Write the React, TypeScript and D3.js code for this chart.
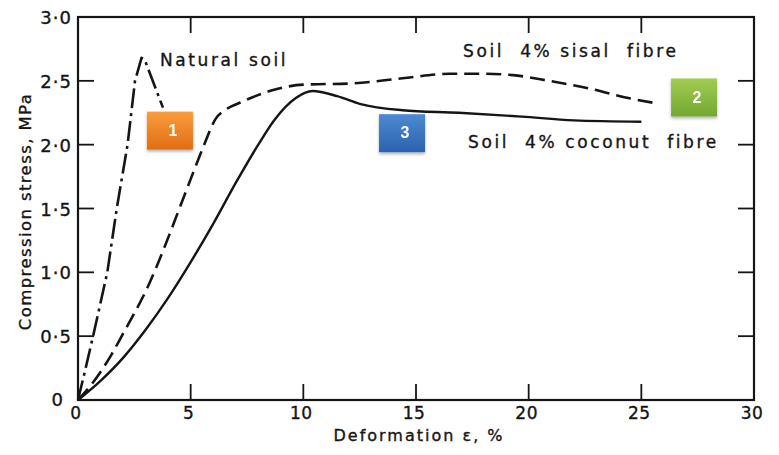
import * as d3 from "d3";

// stress-strain curves: [deformation %, stress MPa]
const naturalSoil: [number, number][] = [
  [0, 0], [0.3, 0.22], [0.67, 0.5], [1.3, 1.0], [1.72, 1.5], [2.2, 2.0],
  [2.53, 2.5], [2.82, 2.68], [2.95, 2.67], [3.77, 2.29],
];
const sisalFibre: [number, number][] = [
  [0, 0], [0.5, 0.1], [1, 0.22], [1.5, 0.36], [2, 0.52], [2.5, 0.68],
  [3, 0.85], [3.5, 1.05], [4, 1.27], [4.5, 1.5], [5, 1.73], [5.6, 2.0],
  [6.1, 2.2], [6.6, 2.28], [7.2, 2.33], [8.5, 2.42], [10, 2.47],
  [12.2, 2.48], [14.4, 2.52], [16.5, 2.555], [18, 2.556], [19.3, 2.545],
  [20.9, 2.5], [22.7, 2.44], [24.3, 2.37], [25.8, 2.32],
];
const coconutFibre: [number, number][] = [
  [0, 0], [1, 0.15], [2, 0.33], [3, 0.55], [4, 0.8], [5, 1.08], [6, 1.38],
  [7, 1.7], [8, 2.0], [8.7, 2.19], [9.7, 2.37], [10.4, 2.42],
  [11.5, 2.38], [12.5, 2.32], [14.4, 2.27], [16.9, 2.25], [19.7, 2.22],
  [22, 2.19], [25, 2.18],
];

const xTicks = [0, 5, 10, 15, 20, 25, 30];
const yTicks = [0, 0.5, 1, 1.5, 2, 2.5, 3];

// curve captions: text, start x, baseline y (data units)
const captions: [string, number, number][] = [
  ["Natural soil", 3.64, 2.62],
  ["Soil  4% sisal  fibre", 17.09, 2.686],
  ["Soil  4% coconut  fibre", 17.31, 1.973],
];

// numbered badges: label, centre x, centre y, colours
const badges: [string, number, number, string, string][] = [
  ["1", 4.08, 2.11, "#fa9d3c", "#e06d14"],
  ["2", 27.34, 2.37, "#a2cc52", "#74a832"],
  ["3", 14.38, 2.09, "#4f8ad3", "#2a62ad"],
];

const W = 779;
const H = 455;
const font = "'DejaVu Sans', sans-serif";
const ink = "#151515";

export default function App() {
  const x = d3.scaleLinear().domain([0, 30]).range([78, 754]);
  const y = d3.scaleLinear().domain([0, 3]).range([400, 17]);
  const [x0, x1] = x.range();
  const [y0, y1] = y.range();
  const tick = 16;

  const straight = d3.line<[number, number]>().x((d) => x(d[0])).y((d) => y(d[1]));
  const smooth = d3
    .line<[number, number]>()
    .x((d) => x(d[0]))
    .y((d) => y(d[1]))
    .curve(d3.curveMonotoneX);

  const fmt = (v: number) => (v === 0 ? "0" : v.toFixed(1).replace(".", "·"));
  const textStyle = { fill: ink, stroke: ink, strokeWidth: 0.35 };

  return (
    <svg
      width={W}
      height={H}
      style={{ position: "absolute", left: 0, top: 0, background: "#fff" }}
      fontFamily={font}
    >
      <defs>
        {badges.map(([lab, , , c1, c2]) => (
          <linearGradient key={lab} id={`g${lab}`} x1="0" y1="0" x2="0" y2="1">
            <stop offset="0%" stopColor={c1} />
            <stop offset="100%" stopColor={c2} />
          </linearGradient>
        ))}
        <filter id="shadow" x="-20%" y="-20%" width="140%" height="150%">
          <feDropShadow dx="0" dy="2" stdDeviation="1.5" floodColor="#000" floodOpacity="0.3" />
        </filter>
      </defs>

      {/* frame */}
      <rect x={x0} y={y1} width={x1 - x0} height={y0 - y1} fill="none" stroke={ink} strokeWidth={2.2} />

      {xTicks.slice(1, -1).map((t) => (
        <g key={"xt" + t} stroke={ink} strokeWidth={1.8}>
          <line x1={x(t)} x2={x(t)} y1={y0} y2={y0 - tick} />
          <line x1={x(t)} x2={x(t)} y1={y1} y2={y1 + tick} />
        </g>
      ))}
      {yTicks.slice(1, -1).map((t) => (
        <g key={"yt" + t} stroke={ink} strokeWidth={1.8}>
          <line x1={x0} x2={x0 + tick} y1={y(t)} y2={y(t)} />
          <line x1={x1} x2={x1 - tick} y1={y(t)} y2={y(t)} />
        </g>
      ))}

      {/* tick labels */}
      {xTicks.map((t) => (
        <text key={"xl" + t} x={x(t) - 2} y={419} textAnchor="middle" fontSize={17} letterSpacing={0.5} {...textStyle}>
          {t}
        </text>
      ))}
      {yTicks.map((t) => (
        <text
          key={"yl" + t}
          x={t === 0 ? 64 : 72}
          y={y(t) + (t === 0 ? 1 : 2)}
          textAnchor="end"
          dominantBaseline="middle"
          fontSize={18}
          letterSpacing={1}
          {...textStyle}
        >
          {fmt(t)}
        </text>
      ))}

      {/* axis titles */}
      <text x={419} y={441} textAnchor="middle" fontSize={16} letterSpacing={2} {...textStyle}>
        Deformation ε, %
      </text>
      <text
        transform={`translate(31,${(y0 + y1) / 2 + 3}) rotate(-90)`}
        textAnchor="middle"
        fontSize={16.5}
        letterSpacing={1.4}
        {...textStyle}
      >
        Compression stress, MPa
      </text>

      {/* curves */}
      <path d={straight(naturalSoil) ?? ""} fill="none" stroke={ink} strokeWidth={2.6} strokeDasharray="20 5 3 5" strokeLinejoin="round" />
      <path d={smooth(sisalFibre) ?? ""} fill="none" stroke={ink} strokeWidth={2.6} strokeDasharray="15 7" />
      <path d={smooth(coconutFibre) ?? ""} fill="none" stroke={ink} strokeWidth={2.4} />

      {/* captions */}
      {captions.map(([txt, cx, cy]) => (
        <text
          key={txt}
          x={x(cx)}
          y={y(cy)}
          fontSize={17}
          letterSpacing={2.6}
          style={{ whiteSpace: "pre" }}
          {...textStyle}
        >
          {txt}
        </text>
      ))}

      {/* badges */}
      {badges.map(([lab, bx, by]) => (
        <g key={"b" + lab} filter="url(#shadow)">
          <rect x={x(bx) - 23} y={y(by) - 19} width={46} height={38} fill={`url(#g${lab})`} />
          <text
            x={x(bx) + 3}
            y={y(by) + 1}
            textAnchor="middle"
            dominantBaseline="middle"
            fontFamily="'Liberation Sans', Arial, sans-serif"
            fontWeight="bold"
            fontSize={16}
            fill="#fff"
          >
            {lab}
          </text>
        </g>
      ))}
    </svg>
  );
}
